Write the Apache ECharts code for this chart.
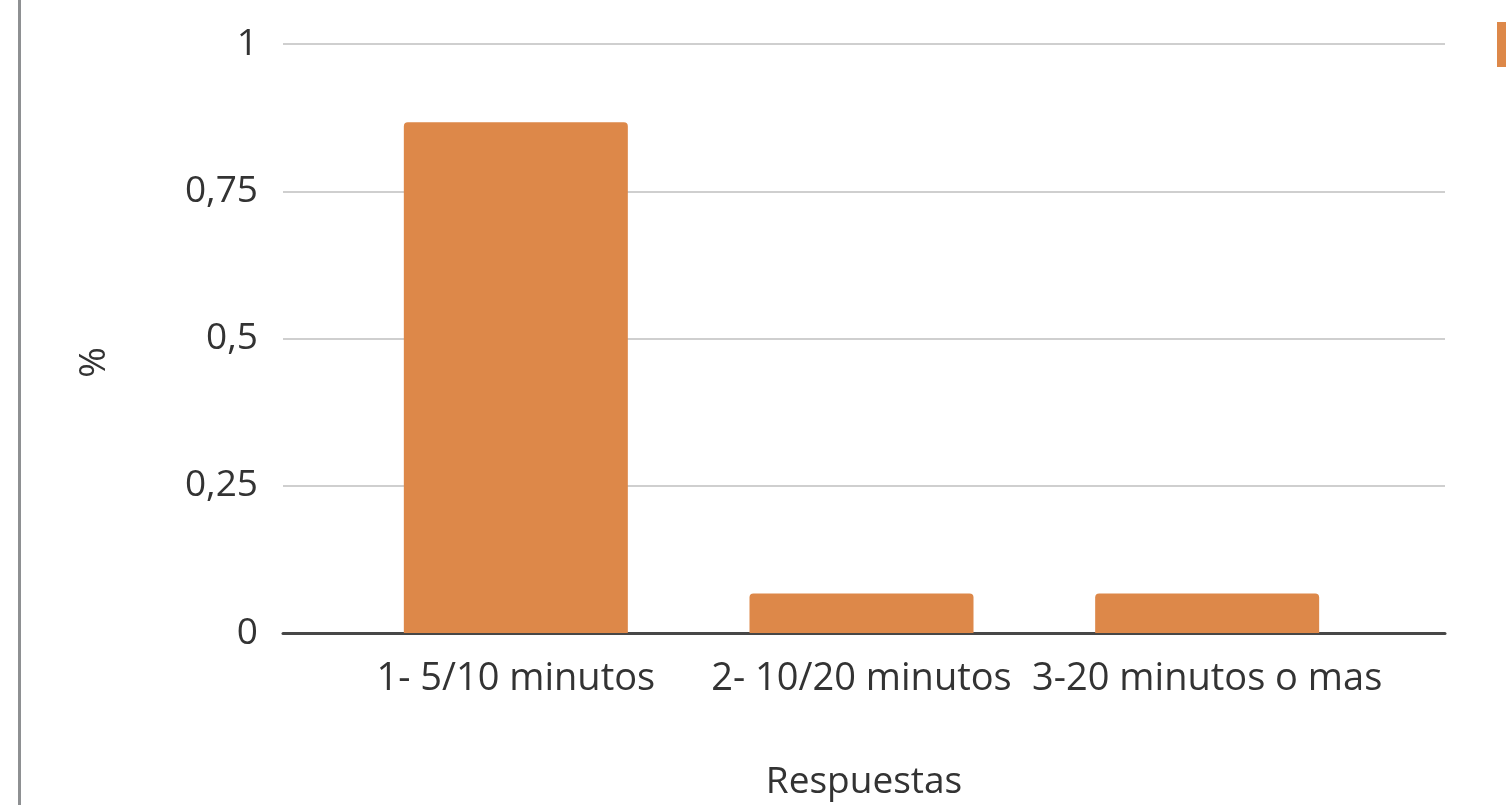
<!DOCTYPE html>
<html>
<head>
<meta charset="utf-8">
<script src="https://cdn.jsdelivr.net/npm/echarts@6/dist/echarts.min.js"></script>
<style>
  html, body { margin: 0; padding: 0; background: #fff; }
  #main { width: 1506px; height: 805px; }
</style>
</head>
<body>
<div id="main"></div>
<script>
// data
var categories = ['1- 5/10 minutos', '2- 10/20 minutos', '3-20 minutos o mas'];
var seriesName = '%';
var values = [0.867, 0.067, 0.067];
var yTicks = [0, 0.25, 0.5, 0.75, 1];

var textColor = '#333';
var barColor = '#dd8849';
var fontFamily = '"Open Sans", sans-serif';

var chart = echarts.init(document.getElementById('main'));

var option = {
    animation: false,
    textStyle: { fontFamily: fontFamily },
    graphic: [
        {
            type: 'rect',
            shape: { x: 18, y: 0, width: 3, height: 805 },
            style: { fill: '#8e9092' }
        }
    ],
    legend: {
        left: 1497,
        top: 22,
        padding: 0,
        itemWidth: 45,
        itemHeight: 45,
        icon: 'rect',
        data: [seriesName],
        textStyle: { fontSize: 37, color: textColor }
    },
    grid: [
        // frame grid: gridlines, y labels and base line
        { left: 283, right: 61, top: 44, bottom: 172, outerBoundsMode: 'none', containLabel: false },
        // bar grid
        { left: 343, right: 126, top: 44, bottom: 172, outerBoundsMode: 'none', containLabel: false }
    ],
    xAxis: [
        {
            type: 'category',
            gridIndex: 0,
            data: categories,
            axisLine: { lineStyle: { color: '#474747', width: 3 } },
            axisTick: { show: false },
            axisLabel: { show: false },
            name: 'Respuestas',
            nameLocation: 'middle',
            nameGap: 131,
            nameTextStyle: { fontSize: 37, color: textColor }
        },
        {
            type: 'category',
            gridIndex: 1,
            data: categories,
            axisLine: { show: false },
            axisTick: { show: false },
            axisLabel: { fontSize: 38, color: textColor, margin: 27, interval: 0 }
        }
    ],
    yAxis: [
        {
            type: 'value',
            gridIndex: 0,
            min: yTicks[0],
            max: yTicks[yTicks.length - 1],
            interval: 0.25,
            axisLine: { show: false },
            axisTick: { show: false },
            splitLine: { lineStyle: { color: '#cfcfcf', width: 2 } },
            axisLabel: {
                fontSize: 37,
                color: textColor,
                margin: 25,
                formatter: function (v) { return String(v).replace('.', ','); }
            },
            name: '%',
            nameLocation: 'middle',
            nameGap: 170,
            nameRotate: 90,
            nameTextStyle: { fontSize: 37, color: textColor, padding: [0, 48, 0, 0] }
        },
        {
            type: 'value',
            gridIndex: 1,
            min: yTicks[0],
            max: yTicks[yTicks.length - 1],
            interval: 0.25,
            show: false
        }
    ],
    series: [
        {
            name: seriesName,
            type: 'bar',
            xAxisIndex: 1,
            yAxisIndex: 1,
            data: values,
            barWidth: 224,
            itemStyle: { color: barColor, borderRadius: [4, 4, 0, 0] }
        }
    ]
};

chart.setOption(option);
</script>
</body>
</html>
